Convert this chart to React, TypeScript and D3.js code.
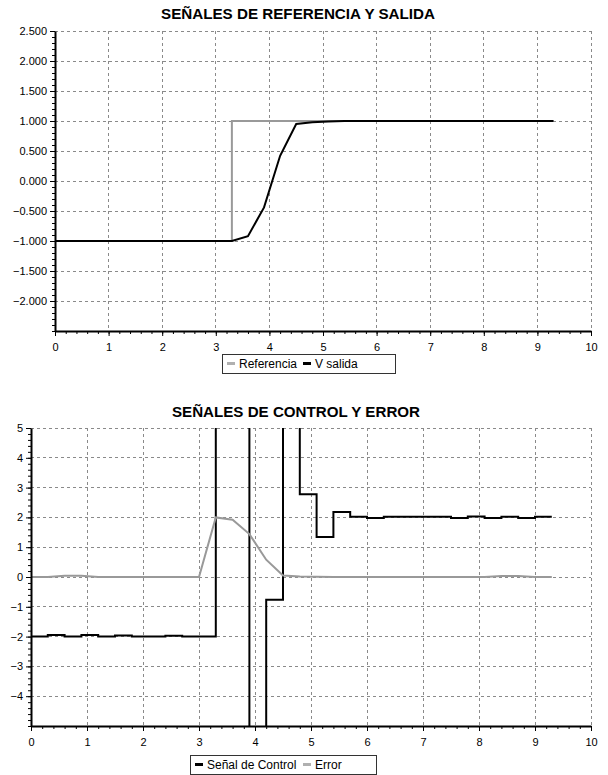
import React, { useEffect, useRef } from "react";
import * as d3 from "d3";

// muestras cada 0.3 s
const tiempo = [0, 0.3, 0.6, 0.9, 1.2, 1.5, 1.8, 2.1, 2.4, 2.7, 3.0, 3.3, 3.6, 3.9, 4.2, 4.5,
  4.8, 5.1, 5.4, 5.7, 6.0, 6.3, 6.6, 6.9, 7.2, 7.5, 7.8, 8.1, 8.4, 8.7, 9.0, 9.3];

const refTiempo = [0, 3.3, 3.3, 9.3];
const referencia = [-1, -1, 1, 1];

const vSalida = [-1, -1, -1, -1, -1, -1, -1, -1, -1, -1, -1, -1,
  -0.92, -0.44, 0.42, 0.95, 0.98, 0.99,
  1, 1, 1, 1, 1, 1, 1, 1, 1, 1, 1, 1, 1, 1];

const senalControl = [-2, -1.95, -2, -1.95, -2, -1.96, -2, -2, -1.97, -2, -2,
  14, 12, -12, -0.76, 8, 2.78, 1.34, 2.18, 2.02, 1.98, 2.02, 2.02, 2.02, 2.02,
  1.98, 2.03, 1.98, 2.02, 1.98, 2.02, 2.02];

const error = [0, 0, 0.04, 0.04, 0, 0, 0, 0, 0, 0, 0,
  2.0, 1.92, 1.44, 0.58, 0.05, 0.02, 0.01,
  0, 0, 0, 0, 0, 0, 0, 0, 0, 0, 0.03, 0.03, 0, 0];

const ticksX = [0, 1, 2, 3, 4, 5, 6, 7, 8, 9, 10];
const ticksYSup = [2.5, 2, 1.5, 1, 0.5, 0, -0.5, -1, -1.5, -2];
const ticksYInf = [5, 4, 3, 2, 1, 0, -1, -2, -3, -4];

const FONT = "'Liberation Sans', Arial, Helvetica, sans-serif";
const GRIS = "#999999";

const drawPanel = (svg, p) => {
  const x = d3.scaleLinear().domain([0, 10]).range([p.left, p.right]);
  const y = d3.scaleLinear().domain(p.yDomain).range([p.bottom, p.top]);
  const g = svg.append("g");

  g.append("text")
    .attr("x", p.titleX)
    .attr("y", p.titleY)
    .attr("text-anchor", "middle")
    .attr("font-family", FONT)
    .attr("font-weight", "bold")
    .attr("font-size", 15)
    .attr("textLength", p.titleW)
    .attr("lengthAdjust", "spacingAndGlyphs")
    .text(p.title);

  // rejilla punteada (incluye borde superior y derecho)
  const grid = g.append("g")
    .attr("stroke", "#8a8a8a")
    .attr("stroke-dasharray", "3,3")
    .attr("shape-rendering", "crispEdges");
  grid.selectAll(".v").data(ticksX.slice(1)).join("line")
    .attr("class", "v")
    .attr("x1", (d) => x(d)).attr("x2", (d) => x(d))
    .attr("y1", p.top).attr("y2", p.bottom);
  grid.selectAll(".h").data(p.yTicks).join("line")
    .attr("class", "h")
    .attr("x1", p.left).attr("x2", p.right)
    .attr("y1", (d) => y(d)).attr("y2", (d) => y(d));

  g.append("clipPath").attr("id", p.id)
    .append("rect")
    .attr("x", p.left).attr("y", p.top)
    .attr("width", p.right - p.left).attr("height", p.bottom - p.top);

  const series = g.append("g").attr("clip-path", `url(#${p.id})`);
  p.series.forEach((s) => {
    const line = d3.line()
      .x((d) => x(d[0]))
      .y((d) => y(d[1]))
      .curve(s.step ? d3.curveStepAfter : d3.curveLinear);
    series.append("path")
      .datum(s.t.map((t, i) => [t, s.v[i]]))
      .attr("fill", "none")
      .attr("stroke", s.color)
      .attr("stroke-width", 2)
      .attr("d", line);
  });

  const styleAxis = (a) => {
    a.attr("font-family", FONT).attr("font-size", 11);
    a.select(".domain").attr("stroke", "#000").attr("stroke-width", 2);
    a.selectAll(".tick line").attr("stroke", "#000");
    a.selectAll(".tick text").attr("fill", "#000");
  };

  g.append("g")
    .attr("transform", `translate(0,${p.bottom})`)
    .call(d3.axisBottom(x).tickValues(d3.range(0, 10.01, 0.2)).tickSize(3).tickFormat(() => ""))
    .call((a) => a.select(".domain").remove());
  g.append("g")
    .attr("transform", `translate(${p.left},0)`)
    .call(d3.axisLeft(y).tickValues(p.yMinor).tickSize(3).tickFormat(() => ""))
    .call((a) => a.select(".domain").remove());

  g.append("g")
    .attr("transform", `translate(0,${p.bottom})`)
    .call(d3.axisBottom(x).tickValues(ticksX).tickSize(5).tickSizeOuter(0).tickPadding(7).tickFormat(d3.format("d")))
    .call(styleAxis);
  g.append("g")
    .attr("transform", `translate(${p.left},0)`)
    .call(d3.axisLeft(y).tickValues(p.yTicks).tickSize(5).tickSizeOuter(0).tickPadding(3).tickFormat(p.fmt))
    .call(styleAxis);

  // leyenda
  const lg = g.append("g").attr("font-family", FONT).attr("font-size", 12);
  lg.append("rect")
    .attr("x", p.legend.x).attr("y", p.legend.y)
    .attr("width", p.legend.w).attr("height", 19)
    .attr("fill", "#fff").attr("stroke", "#333")
    .attr("shape-rendering", "crispEdges");
  p.legend.items.forEach((it) => {
    lg.append("line")
      .attr("x1", it.x).attr("x2", it.x + 8)
      .attr("y1", p.legend.y + 9.5).attr("y2", p.legend.y + 9.5)
      .attr("stroke", it.color).attr("stroke-width", 3);
    lg.append("text")
      .attr("x", it.x + 12).attr("y", p.legend.y + 14)
      .text(it.label);
  });
};

export default function App() {
  const svgRef = useRef(null);

  useEffect(() => {
    const svg = d3.select(svgRef.current);
    svg.selectAll("*").remove();

    drawPanel(svg, {
      id: "clipSup",
      title: "SEÑALES DE REFERENCIA Y SALIDA",
      titleX: 298, titleY: 19, titleW: 274,
      left: 55, right: 591, top: 31, bottom: 331,
      yDomain: [-2.5, 2.5],
      yTicks: ticksYSup,
      yMinor: d3.range(-2.5, 2.51, 0.1),
      fmt: d3.format(".3f"),
      series: [
        { t: refTiempo, v: referencia, color: GRIS },
        { t: tiempo, v: vSalida, color: "#000" },
      ],
      legend: {
        x: 222, y: 354, w: 173,
        items: [
          { x: 227, color: "#b0b0b0", label: "Referencia" },
          { x: 303, color: "#000", label: "V salida" },
        ],
      },
    });

    drawPanel(svg, {
      id: "clipInf",
      title: "SEÑALES DE CONTROL Y ERROR",
      titleX: 296, titleY: 417, titleW: 248,
      left: 31, right: 591, top: 428, bottom: 726,
      yDomain: [-5, 5],
      yTicks: ticksYInf,
      yMinor: d3.range(-5, 5.01, 0.2),
      fmt: d3.format("d"),
      series: [
        { t: tiempo, v: senalControl, color: "#000", step: true },
        { t: tiempo, v: error, color: GRIS },
      ],
      legend: {
        x: 190, y: 755, w: 186,
        items: [
          { x: 195, color: "#000", label: "Señal de Control" },
          { x: 303, color: "#b0b0b0", label: "Error" },
        ],
      },
    });
  }, []);

  return (
    <svg
      ref={svgRef}
      width={608}
      height={775}
      style={{ position: "absolute", left: 0, top: 0, background: "#fff" }}
    />
  );
}
